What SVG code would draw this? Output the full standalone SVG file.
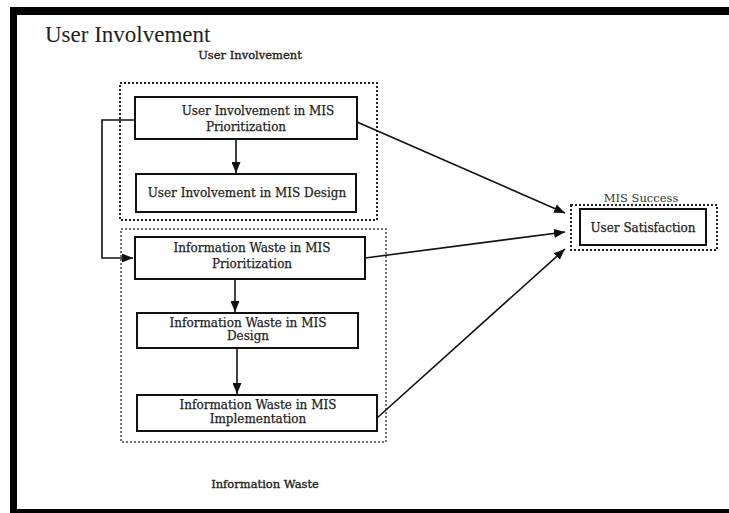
<svg xmlns="http://www.w3.org/2000/svg" width="729" height="513" viewBox="0 0 729 513">
<style>
.frame{fill:#000}
.box{fill:#fff;stroke:#111;stroke-width:2}
.grp{fill:none;stroke:#222;stroke-width:2;stroke-dasharray:2 2}
.grp2{fill:none;stroke:#444;stroke-width:1.5;stroke-dasharray:2 2}
.t{font-family:"DejaVu Serif","Liberation Serif",serif;font-size:12px;fill:#222;stroke:#222;stroke-width:0.25;text-anchor:middle}
.lbl{font-family:"DejaVu Serif","Liberation Serif",serif;font-size:11.5px;fill:#222;stroke:#222;stroke-width:0.35;text-anchor:middle}
.lbl2{font-family:"DejaVu Serif","Liberation Serif",serif;font-size:11.5px;fill:#333;text-anchor:middle}
.title{font-family:"Liberation Serif","Times New Roman",serif;font-size:23px;fill:#222}
.conn{fill:none;stroke:#111;stroke-width:1.6}
</style>
<defs>
<marker id="ah" markerWidth="11" markerHeight="9" refX="11" refY="4.5" orient="auto" markerUnits="userSpaceOnUse">
<path d="M0,0 L11,4.5 L0,9 Z" fill="#111"/>
</marker>
</defs>
<rect x="0" y="0" width="729" height="513" fill="#fff"/>
<g id="frame">
<rect class="frame" x="10" y="7" width="719" height="8"/>
<rect class="frame" x="10" y="7" width="7" height="506"/>
<rect class="frame" x="10" y="509" width="719" height="4"/>
</g>
<text class="title" x="45" y="42">User Involvement</text>
<g id="group-user-involvement">
<rect class="grp" x="120" y="83" width="257" height="137"/>
<text class="lbl" x="250" y="59">User Involvement</text>
</g>
<g id="group-information-waste">
<rect class="grp2" x="121" y="229" width="265" height="213"/>
<text class="lbl" x="265" y="488">Information Waste</text>
</g>
<g id="group-mis-success">
<rect class="grp" x="571" y="205" width="146" height="45"/>
<text class="lbl2" x="641" y="202">MIS Success</text>
</g>
<g id="n-ui-prio">
<rect class="box" x="135" y="97" width="222" height="42"/>
<text class="t" x="258" y="115">User Involvement in MIS</text>
<text class="t" x="246" y="131">Prioritization</text>
</g>
<g id="n-ui-design">
<rect class="box" x="136" y="174" width="220" height="38"/>
<text class="t" x="247" y="197">User Involvement in MIS Design</text>
</g>
<g id="n-iw-prio">
<rect class="box" x="135" y="237" width="230" height="42"/>
<text class="t" x="252" y="252">Information Waste in MIS</text>
<text class="t" x="252" y="268">Prioritization</text>
</g>
<g id="n-iw-design">
<rect class="box" x="137" y="313" width="221" height="35"/>
<text class="t" x="248" y="327">Information Waste in MIS</text>
<text class="t" x="248" y="340">Design</text>
</g>
<g id="n-iw-impl">
<rect class="box" x="137" y="395" width="240" height="36"/>
<text class="t" x="258" y="409">Information Waste in MIS</text>
<text class="t" x="258" y="423">Implementation</text>
</g>
<g id="n-user-sat">
<rect class="box" x="580" y="209" width="126" height="36"/>
<text class="t" x="643" y="232">User Satisfaction</text>
</g>
<g id="connectors">
<line class="conn" x1="236" y1="139" x2="236" y2="173" marker-end="url(#ah)"/>
<line class="conn" x1="235" y1="279" x2="235" y2="312" marker-end="url(#ah)"/>
<line class="conn" x1="237" y1="348" x2="237" y2="394" marker-end="url(#ah)"/>
<polyline class="conn" points="135,120 102,120 102,258 133,258" marker-end="url(#ah)"/>
<line class="conn" x1="357" y1="122" x2="565" y2="213" marker-end="url(#ah)"/>
<line class="conn" x1="365" y1="258" x2="565" y2="232" marker-end="url(#ah)"/>
<line class="conn" x1="377" y1="418" x2="565" y2="249" marker-end="url(#ah)"/>
</g>
</svg>
